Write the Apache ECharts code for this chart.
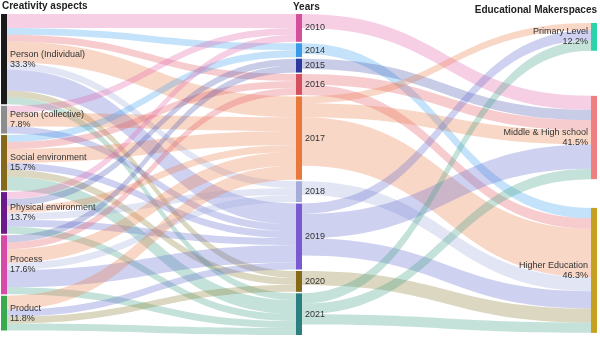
<!DOCTYPE html>
<html>
<head>
<meta charset="utf-8">
<script src="https://cdn.jsdelivr.net/npm/echarts@6/dist/echarts.min.js"></script>
<style>
html,body{margin:0;padding:0;background:#fff;}
#chart{width:600px;height:338px;}
</style>
</head>
<body>
<div id="chart"></div>
<script>
// ---- Data ----
var aspects = ['Person (Individual)', 'Person (collective)', 'Social environment', 'Physical environment', 'Process', 'Product'];
var aspectPct = ['33.3%', '7.8%', '15.7%', '13.7%', '17.6%', '11.8%'];
var years = ['2010', '2014', '2015', '2016', '2017', '2018', '2019', '2020', '2021'];
var levels = ['Primary Level', 'Middle & High school', 'Higher Education'];
var levelPct = ['12.2%', '41.5%', '46.3%'];

// aspect -> year flows (rows: aspects, cols: years)
var aspectYear = [
  [2, 1, 0, 1, 3, 1, 3, 1, 1],     // Person (Individual)
  [1, 0, 0, 0, 2, 0, 1, 0, 0],     // Person (collective)
  [0, 1, 0, 1, 2, 0, 1, 1, 2],     // Social environment
  [1, 0, 1, 0, 1, 1, 1, 0, 1],     // Physical environment
  [0, 0, 1, 1, 2, 1, 2.5, 0, 1],   // Process
  [0, 0, 0, 0, 2, 0, 1, 1, 1]      // Product
];
// year -> level flows (rows: years, cols: levels)
var yearLevel = [
  [0, 2, 0],       // 2010
  [0, 0, 1.5],     // 2014
  [0, 1.5, 0],     // 2015
  [0, 1.5, 1.5],   // 2016
  [1, 2, 7],       // 2017
  [0, 0, 2],       // 2018
  [1.5, 3.5, 2.5], // 2019
  [0, 0, 2],       // 2020
  [1.5, 1.5, 1.5]  // 2021
];

// ---- Layout & styles ----
var levelTopFraction = [0.028, 0.255, 0.604]; // vertical placement of the right-hand column nodes
var aspectColors = ['#1a1a1a', '#8c8c8c', '#86681a', '#6a1a8a', '#d84aa8', '#3aaa50'];
var yearColors = ['#d4509c', '#3a9ae8', '#2c3a9e', '#d4505e', '#e8783c', '#a6acd8', '#7a5ad0', '#846a18', '#2a7f80'];
var yearLinkColors = ['#e060a8', '#3ca0ea', '#4a55b0', '#e05560', '#ec7a45', '#a0a8dc', '#5e66cc', '#8a7a30', '#3aa080'];
var levelColors = ['#2ad4a8', '#f08080', '#c8a020'];

var nodes = [];
aspects.forEach(function (a, i) {
  nodes.push({
    name: a, itemStyle: { color: aspectColors[i] },
    label: { position: 'right', formatter: a + '\n' + aspectPct[i] }
  });
});
years.forEach(function (y, i) {
  nodes.push({ name: y, itemStyle: { color: yearColors[i] }, label: { position: 'right' } });
});
levels.forEach(function (l, i) {
  nodes.push({
    name: l, itemStyle: { color: levelColors[i] }, localY: levelTopFraction[i],
    label: { position: 'left', formatter: l + '\n' + levelPct[i] }
  });
});

var links = [];
aspectYear.forEach(function (row, i) {
  row.forEach(function (v, j) {
    if (v > 0) links.push({ source: aspects[i], target: years[j], value: v, lineStyle: { color: yearLinkColors[j] } });
  });
});
yearLevel.forEach(function (row, i) {
  row.forEach(function (v, j) {
    if (v > 0) links.push({ source: years[i], target: levels[j], value: v, lineStyle: { color: yearLinkColors[i] } });
  });
});

var headerFont = 'bold 10px "Liberation Sans", Arial, sans-serif';
var chart = echarts.init(document.getElementById('chart'));
chart.setOption({
  animation: false,
  textStyle: { fontFamily: 'Liberation Sans, Arial, sans-serif' },
  graphic: [
    { type: 'text', left: 2, top: 1, style: { text: 'Creativity aspects', font: headerFont, fill: '#222' } },
    { type: 'text', left: 293, top: 2, style: { text: 'Years', font: headerFont, fill: '#222' } },
    { type: 'text', right: 3, top: 5, style: { text: 'Educational Makerspaces', font: headerFont, fill: '#222' } }
  ],
  series: [{
    type: 'sankey',
    left: 1, right: 3, top: 14, bottom: 3,
    nodeWidth: 6,
    nodeGap: 1.5,
    nodeAlign: 'justify',
    layoutIterations: 0,
    draggable: false,
    emphasis: { disabled: true },
    data: nodes,
    links: links,
    label: { fontSize: 9, color: '#333', lineHeight: 10, distance: 3 },
    lineStyle: { opacity: 0.3, curveness: 0.5 }
  }]
});
</script>
</body>
</html>
